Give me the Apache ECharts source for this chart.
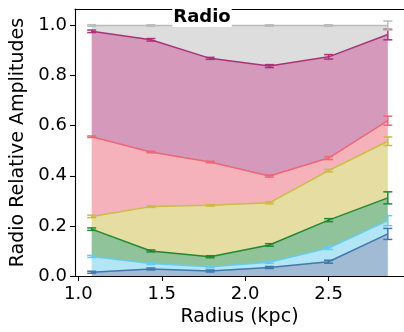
<!DOCTYPE html>
<html>
<head>
<meta charset="utf-8">
<script src="https://cdn.jsdelivr.net/npm/echarts@6/dist/echarts.min.js"></script>
<style>
  html, body { margin: 0; padding: 0; background: #fff; }
  #chart { width: 404px; height: 332px; }
</style>
</head>
<body>
<div id="chart"></div>
<script>
// Radii of the sampled annuli (kpc)
const radius = [1.08, 1.435, 1.79, 2.145, 2.50, 2.855];

// Relative amplitude of each component (stacked bottom to top)
const compBlue    = [0.015, 0.028, 0.020, 0.034, 0.057, 0.168];
const compCyan    = [0.063, 0.022, 0.017, 0.021, 0.055, 0.053];
const compGreen   = [0.109, 0.050, 0.040, 0.069, 0.111, 0.091];
const compYellow  = [0.051, 0.177, 0.205, 0.168, 0.198, 0.226];
const compRed     = [0.318, 0.218, 0.173, 0.107, 0.050, 0.082];
const compPurple  = [0.421, 0.448, 0.414, 0.439, 0.404, 0.344];
const compGrey    = [0.023, 0.057, 0.131, 0.162, 0.125, 0.036];

// 1-sigma uncertainty on the cumulative curve of each component
const errBlue   = [0.004, 0.004, 0.004, 0.004, 0.006, 0.022];
const errCyan   = [0.004, 0.004, 0.004, 0.004, 0.006, 0.020];
const errGreen  = [0.005, 0.004, 0.004, 0.005, 0.006, 0.024];
const errYellow = [0.005, 0.003, 0.003, 0.004, 0.005, 0.017];
const errRed    = [0.003, 0.003, 0.003, 0.004, 0.006, 0.018];
const errPurple = [0.005, 0.005, 0.004, 0.006, 0.009, 0.021];
const errGrey   = [0.003, 0.003, 0.003, 0.003, 0.003, 0.018];

// Axis ticks
const xTicks = [1.0, 1.5, 2.0, 2.5];
const yTicks = [0.0, 0.2, 0.4, 0.6, 0.8, 1.0];

const layers = [
  { vals: compBlue,   errs: errBlue,   color: '#4477AA' },
  { vals: compCyan,   errs: errCyan,   color: '#66CCEE' },
  { vals: compGreen,  errs: errGreen,  color: '#228833' },
  { vals: compYellow, errs: errYellow, color: '#CCBB44' },
  { vals: compRed,    errs: errRed,    color: '#EE6677' },
  { vals: compPurple, errs: errPurple, color: '#AA3377' },
  { vals: compGrey,   errs: errGrey,   color: '#BBBBBB' }
];

const FONT = 'DejaVu Sans';
const fillSeries = [];
const lineSeries = [];
const barSeries = [];
let below = radius.map(() => 0);

layers.forEach((layer) => {
  const bottom = below.slice();
  const top = bottom.map((b, i) => b + layer.vals[i]);
  below = top;

  // filled band between the previous cumulative curve and this one
  fillSeries.push({
    type: 'custom',
    data: [[radius[0], top[0]]],
    silent: true,
    z: 1,
    renderItem: function (params, api) {
      const pts = [];
      for (let i = 0; i < radius.length; i++) pts.push(api.coord([radius[i], top[i]]));
      for (let i = radius.length - 1; i >= 0; i--) pts.push(api.coord([radius[i], bottom[i]]));
      return {
        type: 'polygon',
        shape: { points: pts },
        style: { fill: layer.color, opacity: 0.5 }
      };
    }
  });

  // cumulative curve
  lineSeries.push({
    type: 'line',
    data: radius.map((r, i) => [r, top[i]]),
    showSymbol: false,
    symbol: 'none',
    lineStyle: { color: layer.color, width: 1.5 },
    itemStyle: { color: layer.color },
    silent: true,
    z: 2
  });

  // error bars on the cumulative curve
  barSeries.push({
    type: 'custom',
    data: radius.map((r, i) => [r, top[i] - layer.errs[i], top[i] + layer.errs[i]]),
    silent: true,
    z: 3,
    renderItem: function (params, api) {
      const lo = api.coord([api.value(0), api.value(1)]);
      const hi = api.coord([api.value(0), api.value(2)]);
      const w = 4.5;
      const st = { stroke: layer.color, lineWidth: 1.5 };
      return {
        type: 'group',
        children: [
          { type: 'line', shape: { x1: lo[0], y1: lo[1], x2: hi[0], y2: hi[1] }, style: st },
          { type: 'line', shape: { x1: lo[0] - w, y1: lo[1], x2: lo[0] + w, y2: lo[1] }, style: st },
          { type: 'line', shape: { x1: hi[0] - w, y1: hi[1], x2: hi[0] + w, y2: hi[1] }, style: st }
        ]
      };
    }
  });
});

const chart = echarts.init(document.getElementById('chart'), null, { renderer: 'canvas' });
chart.setOption({
  animation: false,
  backgroundColor: '#fff',
  title: {
    text: 'Radio',
    left: 'center',
    top: 7,
    padding: [1, 1],
    backgroundColor: '#fff',
    textStyle: { fontFamily: FONT, fontSize: 18, fontWeight: 'bold', color: '#000' }
  },
  grid: { left: 75, top: 9, width: 334, height: 274 },
  xAxis: [{
    type: 'value',
    min: 0.98,
    max: 2.952,
    name: 'Radius (kpc)',
    nameLocation: 'middle',
    nameGap: 32,
    nameTextStyle: { fontFamily: FONT, fontSize: 19, color: '#000' },
    axisLine: { show: true, onZero: false, lineStyle: { color: '#000', width: 1.1 } },
    axisTick: { show: true, inside: false, length: 5, customValues: xTicks, lineStyle: { color: '#000', width: 1.1 } },
    axisLabel: {
      customValues: xTicks, margin: 9, color: '#000', fontFamily: FONT, fontSize: 18,
      formatter: v => v.toFixed(1)
    },
    splitLine: { show: false }
  }, {
    type: 'value',
    position: 'top',
    min: 0.98,
    max: 2.952,
    axisLine: { show: true, onZero: false, lineStyle: { color: '#000', width: 1.1 } },
    axisTick: { show: false },
    axisLabel: { show: false },
    splitLine: { show: false }
  }],
  yAxis: {
    type: 'value',
    min: 0,
    max: 1.066,
    name: 'Radio Relative Amplitudes',
    nameLocation: 'middle',
    nameGap: 42,
    nameTextStyle: { fontFamily: FONT, fontSize: 19, color: '#000' },
    axisLine: { show: true, onZero: false, lineStyle: { color: '#000', width: 1.1 } },
    axisTick: { show: true, inside: false, length: 5, customValues: yTicks, lineStyle: { color: '#000', width: 1.1 } },
    axisLabel: {
      customValues: yTicks, margin: 8, color: '#000', fontFamily: FONT, fontSize: 18,
      formatter: v => v.toFixed(1)
    },
    splitLine: { show: false }
  },
  series: fillSeries.concat(lineSeries, barSeries)
});
</script>
</body>
</html>
